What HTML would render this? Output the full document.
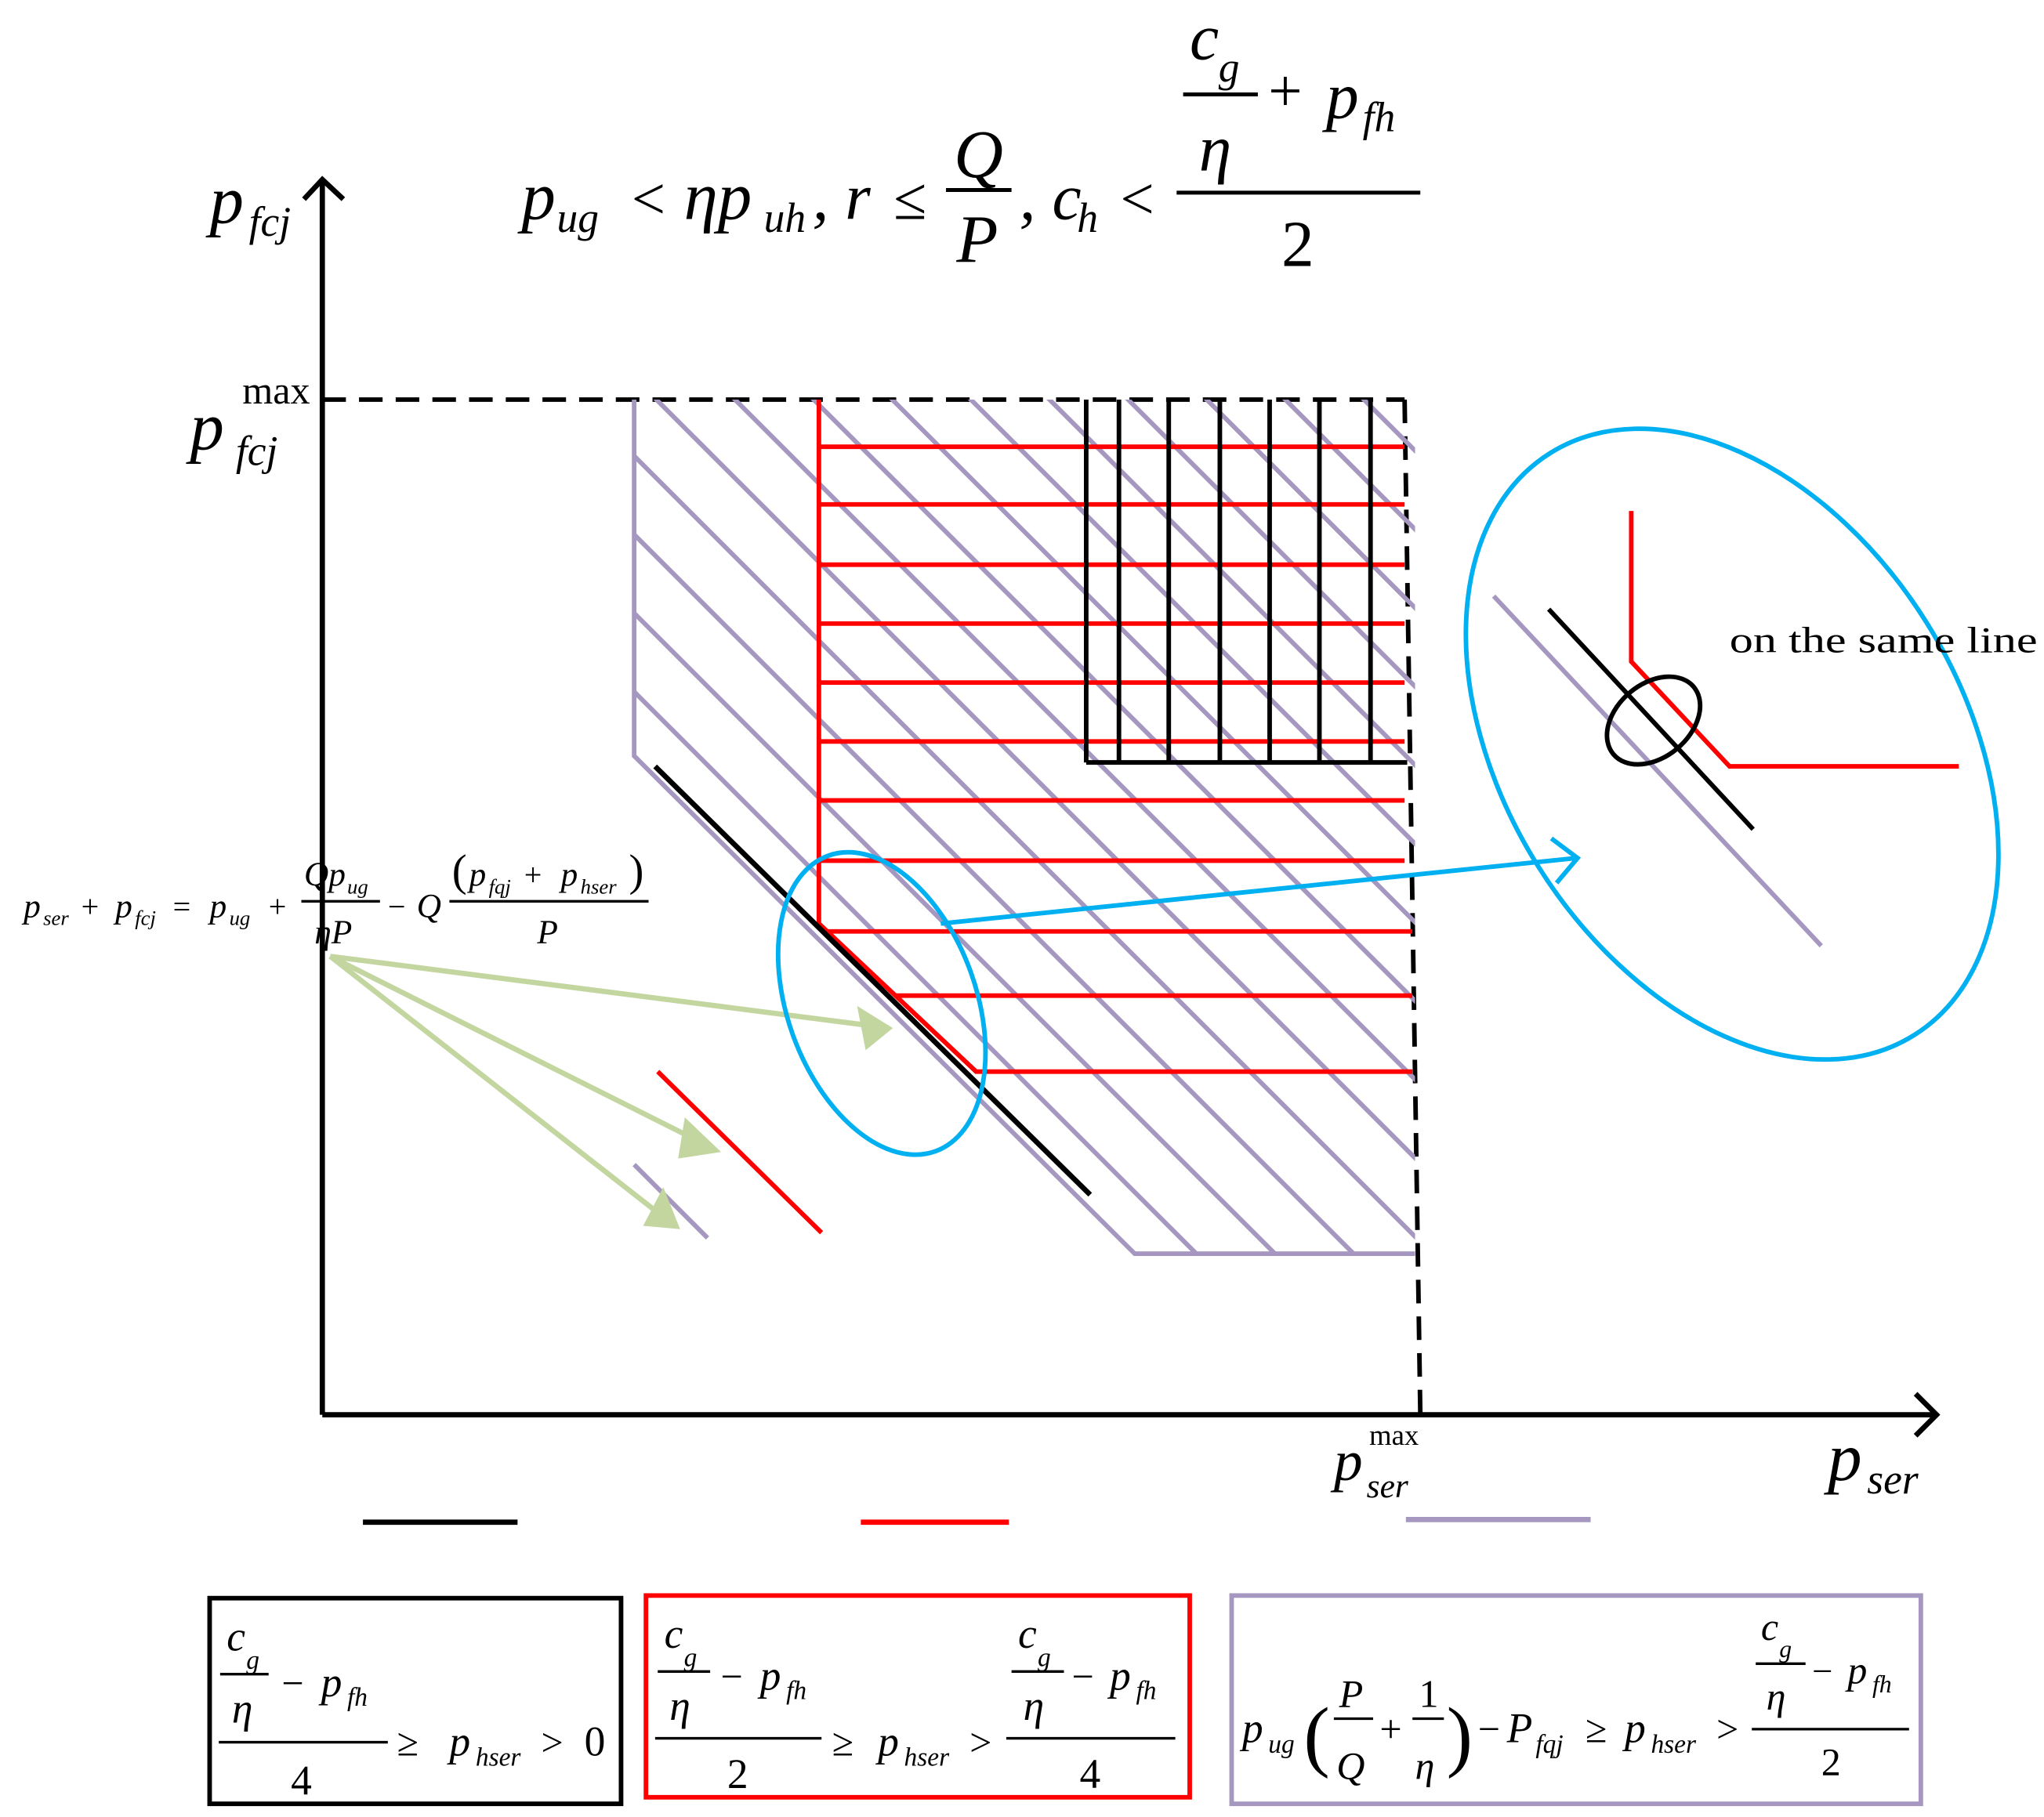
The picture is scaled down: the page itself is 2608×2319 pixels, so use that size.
<!DOCTYPE html>
<html><head><meta charset="utf-8"><style>
html,body{margin:0;padding:0;background:#fff}
svg{display:block}
text{font-family:"Liberation Serif",serif;font-style:italic;fill:#000}
.n{font-style:normal}
</style></head><body>
<svg width="2608" height="2319" viewBox="0 0 1560 1387" xmlns="http://www.w3.org/2000/svg">
<defs>
<clipPath id="pc"><polygon points="484,305 1080,305 1080,957 866,957 484,577"/></clipPath>
<clipPath id="rc"><polygon points="625,305 1078,305 1078,820 745,820 625,705"/></clipPath>
</defs>
<line x1="246" y1="1080" x2="246" y2="137" stroke="#000" stroke-width="4"/>
<polyline points="232,152 246,137 262,152" fill="none" stroke="#000" stroke-width="4"/>
<line x1="246" y1="1080" x2="1478" y2="1080" stroke="#000" stroke-width="4"/>
<polyline points="1462,1064 1478,1080 1462,1096" fill="none" stroke="#000" stroke-width="4"/>
<line x1="246" y1="305" x2="1072" y2="305" stroke="#000" stroke-width="3.5" stroke-dasharray="18,10"/>
<line x1="1072" y1="305" x2="1084" y2="1080" stroke="#000" stroke-width="3.5" stroke-dasharray="18,10"/>
<polyline points="484,305 484,577 866,957 1080,957" fill="none" stroke="#a597c0" stroke-width="3.5"/>
<g clip-path="url(#pc)" stroke="#a597c0" stroke-width="3.5">
<line x1="400" y1="264" x2="1200" y2="1064"/>
<line x1="400" y1="324" x2="1200" y2="1124"/>
<line x1="400" y1="204" x2="1200" y2="1004"/>
<line x1="400" y1="144" x2="1200" y2="944"/>
<line x1="400" y1="84" x2="1200" y2="884"/>
<line x1="400" y1="24" x2="1200" y2="824"/>
<line x1="400" y1="-36" x2="1200" y2="764"/>
<line x1="400" y1="-96" x2="1200" y2="704"/>
<line x1="400" y1="-156" x2="1200" y2="644"/>
<line x1="400" y1="-216" x2="1200" y2="584"/>
<line x1="400" y1="-276" x2="1200" y2="524"/>
<line x1="400" y1="-336" x2="1200" y2="464"/>
<line x1="400" y1="-396" x2="1200" y2="404"/>
<line x1="400" y1="384" x2="1200" y2="1184"/>
<line x1="400" y1="444" x2="1200" y2="1244"/>
<line x1="400" y1="504" x2="1200" y2="1304"/>
<line x1="400" y1="564" x2="1200" y2="1364"/>
</g>
<polyline points="625,305 625,705 745,818 1078,818" fill="none" stroke="#f00" stroke-width="3.5"/>
<g clip-path="url(#rc)" stroke="#f00" stroke-width="3.5">
<line x1="600" y1="341" x2="1072" y2="341"/><line x1="600" y1="385" x2="1072" y2="385"/>
<line x1="600" y1="431" x2="1072" y2="431"/><line x1="600" y1="476" x2="1072" y2="476"/>
<line x1="600" y1="521" x2="1072" y2="521"/><line x1="600" y1="566" x2="1072" y2="566"/>
<line x1="600" y1="611" x2="1072" y2="611"/><line x1="600" y1="657" x2="1072" y2="657"/>
<line x1="600" y1="711" x2="1078" y2="711"/><line x1="600" y1="760" x2="1078" y2="760"/>
</g>
<g stroke="#000" stroke-width="3.5">
<line x1="829" y1="305" x2="829" y2="582"/><line x1="854" y1="305" x2="854" y2="582"/>
<line x1="892" y1="305" x2="892" y2="582"/><line x1="931" y1="305" x2="931" y2="582"/>
<line x1="969" y1="305" x2="969" y2="582"/><line x1="1007" y1="305" x2="1007" y2="582"/>
<line x1="1046" y1="305" x2="1046" y2="582"/>
<line x1="829" y1="582" x2="1074" y2="582"/>
</g>
<line x1="500" y1="585" x2="832" y2="912" stroke="#000" stroke-width="4"/>
<line x1="502" y1="818" x2="627" y2="941" stroke="#f00" stroke-width="3.5"/>
<line x1="484" y1="889" x2="540" y2="945" stroke="#a597c0" stroke-width="3.5"/>
<g stroke="#c4d6a0" stroke-width="4" fill="#c4d6a0">
<line x1="252" y1="730" x2="665" y2="783"/><polygon points="678,785 657,772 662,798"/>
<line x1="252" y1="730" x2="535" y2="872"/><polygon points="546,878 524,857 520,882"/>
<line x1="252" y1="730" x2="505" y2="928"/><polygon points="516,936 506,911 494,934"/>
</g>
<ellipse cx="673" cy="766" rx="72" ry="120" transform="rotate(-20 673 766)" fill="none" stroke="#00b0f0" stroke-width="3.5"/>
<line x1="718" y1="705" x2="1203" y2="655" stroke="#00b0f0" stroke-width="3.5"/>
<polyline points="1184,640 1204,655 1188,674" fill="none" stroke="#00b0f0" stroke-width="3.5"/>
<ellipse cx="1322" cy="568" rx="175" ry="262" transform="rotate(-32 1322 568)" fill="none" stroke="#00b0f0" stroke-width="3.5"/>
<polyline points="1245,390 1245,505 1320,585 1495,585" fill="none" stroke="#f00" stroke-width="3.5"/>
<line x1="1140" y1="455" x2="1390" y2="722" stroke="#a597c0" stroke-width="3.5"/>
<line x1="1182" y1="465" x2="1338" y2="633" stroke="#000" stroke-width="3.5"/>
<ellipse cx="1262" cy="550" rx="40" ry="28" transform="rotate(-40 1262 550)" fill="none" stroke="#000" stroke-width="3.5"/>
<text x="1320" y="498" class="n" font-size="28" textLength="235" lengthAdjust="spacingAndGlyphs">on the same line</text>
<text x="160" y="170" font-size="52">p</text><text x="190" y="180" font-size="32">fcj</text>
<text x="145" y="343" font-size="52">p</text><text x="180" y="355" font-size="32">fcj</text><text x="185" y="308" class="n" font-size="30">max</text>
<text x="1395" y="1130" font-size="52">p</text><text x="1425" y="1140" font-size="32">ser</text>
<text x="1018" y="1130" font-size="44">p</text><text x="1043" y="1143" font-size="26">ser</text><text x="1045" y="1103" class="n" font-size="22">max</text>
<text x="398" y="167" font-size="52">p</text><text x="425" y="177" font-size="32">ug</text>
<text x="482" y="167" class="n" font-size="46">&lt;</text>
<text x="522" y="167" font-size="52">ηp</text><text x="583" y="177" font-size="32">uh</text>
<text x="620" y="167" font-size="50">, r</text><text x="682" y="167" class="n" font-size="46">≤</text>
<text x="728" y="135" font-size="52">Q</text><line x1="722" y1="145" x2="772" y2="145" stroke="#000" stroke-width="3"/><text x="730" y="200" font-size="52">P</text>
<text x="778" y="167" font-size="50">, c</text><text x="822" y="177" font-size="32">h</text>
<text x="855" y="167" class="n" font-size="46">&lt;</text>
<text x="908" y="45" font-size="50">c</text><text x="930" y="62" font-size="32">g</text>
<line x1="903" y1="72" x2="960" y2="72" stroke="#000" stroke-width="3"/>
<text x="915" y="130" font-size="50">η</text>
<text x="968" y="85" class="n" font-size="46">+</text>
<text x="1012" y="90" font-size="50">p</text><text x="1040" y="100" font-size="32">fh</text>
<line x1="898" y1="147" x2="1084" y2="147" stroke="#000" stroke-width="3"/>
<text x="978" y="203" class="n" font-size="50">2</text>
<text x="18" y="700" font-size="26">p</text><text x="33" y="706" font-size="16">ser</text>
<text x="62" y="700" class="n" font-size="24">+</text>
<text x="88" y="700" font-size="26">p</text><text x="103" y="706" font-size="16">fcj</text>
<text x="132" y="700" class="n" font-size="24">=</text>
<text x="160" y="700" font-size="26">p</text><text x="175" y="706" font-size="16">ug</text>
<text x="205" y="700" class="n" font-size="24">+</text>
<text x="232" y="676" font-size="26">Qp</text><text x="265" y="682" font-size="16">ug</text>
<line x1="230" y1="688" x2="290" y2="688" stroke="#000" stroke-width="2"/>
<text x="240" y="720" font-size="26">ηP</text>
<text x="296" y="700" class="n" font-size="24">−</text>
<text x="318" y="700" font-size="26">Q</text>
<text x="345" y="676" class="n" font-size="34">(</text>
<text x="358" y="676" font-size="26">p</text><text x="373" y="682" font-size="16">fqj</text>
<text x="400" y="676" class="n" font-size="24">+</text>
<text x="428" y="676" font-size="26">p</text><text x="443" y="682" font-size="16">hser</text>
<text x="480" y="676" class="n" font-size="34">)</text>
<line x1="343" y1="688" x2="495" y2="688" stroke="#000" stroke-width="2"/>
<text x="410" y="720" font-size="26">P</text>
<line x1="277" y1="1162" x2="395" y2="1162" stroke="#000" stroke-width="4"/>
<line x1="657" y1="1162" x2="770" y2="1162" stroke="#f00" stroke-width="4"/>
<line x1="1073" y1="1160" x2="1214" y2="1160" stroke="#a597c0" stroke-width="4"/>
<rect x="160" y="1220" width="314" height="157" fill="none" stroke="#000" stroke-width="3.5"/>
<rect x="493" y="1218" width="415" height="154" fill="none" stroke="#f00" stroke-width="3.5"/>
<rect x="940" y="1218" width="526" height="159" fill="none" stroke="#a597c0" stroke-width="3.5"/>
<text x="173" y="1260" font-size="32">c</text><text x="188" y="1274" font-size="20">g</text>
<line x1="168" y1="1278" x2="205" y2="1278" stroke="#000" stroke-width="2"/>
<text x="177" y="1315" font-size="32">η</text>
<text x="215" y="1295" class="n" font-size="30">−</text>
<text x="245" y="1295" font-size="32">p</text><text x="265" y="1302" font-size="20">fh</text>
<line x1="167" y1="1330" x2="296" y2="1330" stroke="#000" stroke-width="2"/>
<text x="222" y="1370" class="n" font-size="32">4</text>
<text x="303" y="1340" class="n" font-size="30">≥</text>
<text x="343" y="1340" font-size="32">p</text><text x="363" y="1348" font-size="20">hser</text>
<text x="413" y="1340" class="n" font-size="30">&gt;</text><text x="446" y="1340" class="n" font-size="32">0</text>
<text x="507" y="1258" font-size="32">c</text><text x="522" y="1272" font-size="20">g</text>
<line x1="502" y1="1276" x2="542" y2="1276" stroke="#000" stroke-width="2"/>
<text x="511" y="1313" font-size="32">η</text>
<text x="550" y="1290" class="n" font-size="30">−</text>
<text x="580" y="1290" font-size="32">p</text><text x="600" y="1297" font-size="20">fh</text>
<line x1="500" y1="1327" x2="627" y2="1327" stroke="#000" stroke-width="2"/>
<text x="555" y="1365" class="n" font-size="32">2</text>
<text x="635" y="1340" class="n" font-size="30">≥</text>
<text x="670" y="1340" font-size="32">p</text><text x="690" y="1348" font-size="20">hser</text>
<text x="740" y="1340" class="n" font-size="30">&gt;</text>
<text x="777" y="1258" font-size="32">c</text><text x="792" y="1272" font-size="20">g</text>
<line x1="772" y1="1276" x2="812" y2="1276" stroke="#000" stroke-width="2"/>
<text x="781" y="1313" font-size="32">η</text>
<text x="818" y="1290" class="n" font-size="30">−</text>
<text x="847" y="1290" font-size="32">p</text><text x="867" y="1297" font-size="20">fh</text>
<line x1="768" y1="1327" x2="897" y2="1327" stroke="#000" stroke-width="2"/>
<text x="824" y="1365" class="n" font-size="32">4</text>
<text x="948" y="1330" font-size="32">p</text><text x="968" y="1338" font-size="20">ug</text>
<text x="995" y="1345" class="n" font-size="60">(</text>
<text x="1022" y="1303" font-size="30">P</text>
<line x1="1018" y1="1312" x2="1048" y2="1312" stroke="#000" stroke-width="2"/>
<text x="1020" y="1358" font-size="30">Q</text>
<text x="1053" y="1330" class="n" font-size="30">+</text>
<text x="1083" y="1303" class="n" font-size="30">1</text>
<line x1="1078" y1="1312" x2="1102" y2="1312" stroke="#000" stroke-width="2"/>
<text x="1080" y="1358" font-size="30">η</text>
<text x="1104" y="1345" class="n" font-size="60">)</text>
<text x="1128" y="1330" class="n" font-size="30">−</text>
<text x="1150" y="1330" font-size="32">P</text><text x="1172" y="1338" font-size="20">fqj</text>
<text x="1210" y="1330" class="n" font-size="30">≥</text>
<text x="1240" y="1330" font-size="32">p</text><text x="1260" y="1338" font-size="20">hser</text>
<text x="1310" y="1330" class="n" font-size="30">&gt;</text>
<text x="1344" y="1252" font-size="30">c</text><text x="1358" y="1265" font-size="19">g</text>
<line x1="1340" y1="1270" x2="1378" y2="1270" stroke="#000" stroke-width="2"/>
<text x="1348" y="1305" font-size="30">η</text>
<text x="1383" y="1285" class="n" font-size="28">−</text>
<text x="1410" y="1285" font-size="30">p</text><text x="1429" y="1292" font-size="19">fh</text>
<line x1="1337" y1="1320" x2="1457" y2="1320" stroke="#000" stroke-width="2"/>
<text x="1390" y="1355" class="n" font-size="30">2</text>
</svg>
</body></html>
